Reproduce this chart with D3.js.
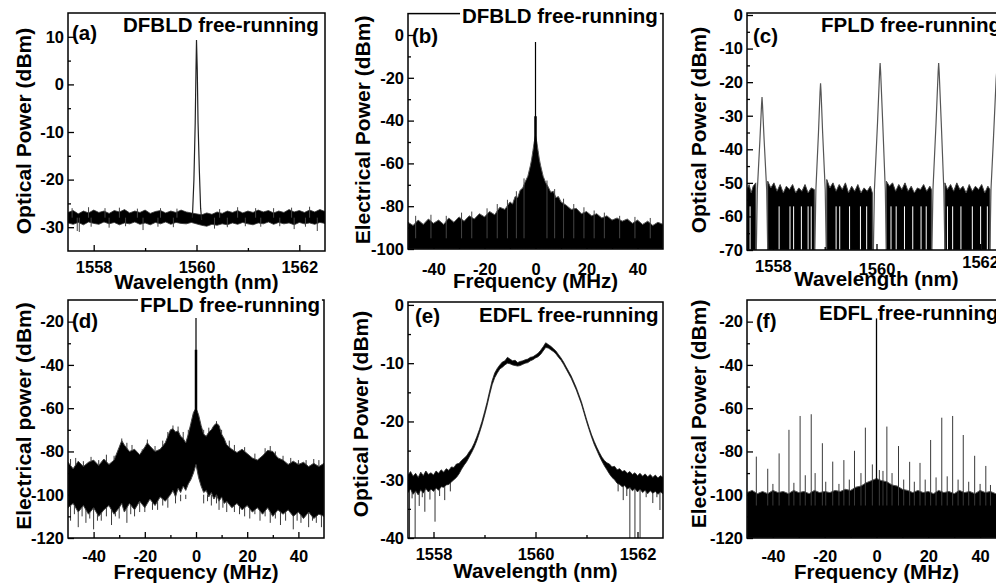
<!DOCTYPE html>
<html>
<head>
<meta charset="utf-8">
<script src="https://cdnjs.cloudflare.com/ajax/libs/d3/7.8.5/d3.min.js"></script>
<style>
  body { margin: 0; background: #fff; }
  svg { display: block; font-family: "Liberation Sans", Arial, sans-serif; font-weight: bold; }
</style>
</head>
<body>
<div id="chart"></div>
<script>
// ---- (a) DFBLD optical spectrum: [nm, upper, lower] noise band + lasing line
const aBand = [
  [1557.5,-26.9,-29.1],[1557.6,-26.5,-29.4],[1557.7,-27.2,-29.0],[1557.8,-26.6,-29.5],[1557.9,-27.0,-28.9],
  [1558.0,-26.4,-29.2],[1558.1,-26.9,-29.4],[1558.2,-26.6,-28.9],[1558.3,-27.1,-29.3],[1558.4,-26.5,-29.0],
  [1558.5,-26.8,-29.5],[1558.6,-26.3,-29.1],[1558.7,-27.0,-29.3],[1558.8,-26.6,-28.9],[1558.9,-26.9,-29.4],
  [1559.0,-26.4,-29.1],[1559.1,-27.1,-29.5],[1559.2,-26.7,-29.0],[1559.3,-26.5,-29.3],[1559.4,-27.0,-28.9],
  [1559.5,-26.6,-29.4],[1559.6,-26.9,-29.0],[1559.7,-26.4,-29.2],[1559.8,-26.8,-29.3],[1559.9,-27.0,-29.0],
  [1560.1,-27.4,-29.6],[1560.2,-27.0,-29.8],[1560.3,-27.3,-29.4],[1560.4,-26.8,-29.6],[1560.5,-27.1,-29.3],
  [1560.6,-26.6,-29.5],[1560.7,-26.9,-29.1],[1560.8,-26.5,-29.4],[1560.9,-27.0,-29.0],[1561.0,-26.6,-29.3],
  [1561.1,-26.9,-29.5],[1561.2,-26.4,-29.1],[1561.3,-26.8,-29.3],[1561.4,-26.5,-28.9],[1561.5,-27.0,-29.4],
  [1561.6,-26.6,-29.0],[1561.7,-26.9,-29.3],[1561.8,-26.3,-29.1],[1561.9,-26.8,-29.5],[1562.0,-26.5,-29.0],
  [1562.1,-26.9,-29.3],[1562.2,-26.4,-29.1],[1562.3,-26.8,-29.4],[1562.4,-26.3,-29.0],[1562.5,-26.7,-29.2]
];
const aSpikes = [
  [1557.68,-30.8],[1557.72,-31.0],[1557.95,-29.9],[1558.3,-30.1],[1558.62,-29.8],[1558.96,-30.6],
  [1559.25,-29.9],[1559.55,-30.0],[1560.35,-30.3],[1560.6,-30.0],[1560.95,-29.8],[1561.25,-29.9],
  [1561.62,-29.8],[1561.9,-30.4],[1562.12,-29.9],[1562.35,-30.8],
  [1557.58,-26.0],[1557.9,-25.8],[1558.22,-26.0],[1558.5,-25.9],[1558.85,-26.1],[1559.3,-26.0],
  [1559.62,-26.1],[1560.45,-26.2],[1560.8,-25.8],[1561.15,-26.0],[1561.5,-26.0],[1561.85,-25.9],[1562.2,-25.7]
];
const aPeak = [
  [1559.92,-28],[1559.95,-20],[1559.975,-8],[1559.99,3],[1560.0,9.3],[1560.015,3],
  [1560.03,-8],[1560.055,-18],[1560.08,-26],[1560.1,-28.5]
];

// ---- (b) DFBLD beat spectrum: [MHz, top of noise]
const bNoise = [
  [-50,-87.5],[-48,-89],[-46,-86.5],[-44,-88.5],[-42,-86],[-40,-88],[-38,-86.5],[-36,-88.5],[-34,-85.5],
  [-32,-87.5],[-30,-85],[-28,-87],[-26,-84.5],[-24,-86],[-22,-83.5],[-20,-85],[-18,-82.5],[-16,-84],
  [-14,-80.5],[-12,-81.5],[-10,-78],[-9,-79],[-8,-75.5],[-7,-76],[-6,-72.5],[-5,-71.5],[-4,-68.5],[-3,-66],
  [-2,-61],[-1.5,-58],[-1,-54],[-0.5,-50],[0,-47],[0.5,-50],[1,-54],[1.5,-58],[2,-61],[3,-66],[4,-69],
  [5,-71],[6,-73.5],[7,-73],[8,-76],[9,-75.5],[10,-78],[12,-79.5],[14,-81.5],[16,-81],[18,-83.5],[20,-82.5],
  [22,-84.5],[24,-83.5],[26,-85.5],[28,-84.5],[30,-86.5],[32,-85.5],[34,-87],[36,-86],[38,-88],[40,-86.5],
  [42,-88.5],[44,-87],[46,-89],[48,-87.5],[50,-88.5]
];
const bSpikes = [
  [-47,-84.5],[-41,-84],[-35,-84.5],[-29,-83],[-25,-82.5],[-19,-81],[-15,-79],[-11,-77],[-7.5,-73],
  [-4.5,-67],[4.5,-68],[7.5,-72],[11,-76.5],[15,-79],[19,-80.5],[23,-82],[27,-83],[33,-84.5],[39,-85],[45,-85.5]
];
const bCarrier = [0, -3.3];

// ---- (c) FPLD optical spectrum: noise floor segments (null = gap under a mode)
const cNoise = [
  [1557.50,-52],[1557.54,-50.5],[1557.58,-53],[1557.62,-51],[1557.67,-50], null,
  [1557.90,-49.5],[1557.96,-51.5],[1558.02,-50],[1558.08,-52.5],[1558.14,-50.5],[1558.20,-53],[1558.26,-51],
  [1558.32,-52],[1558.38,-50.5],[1558.44,-53],[1558.50,-51.5],[1558.56,-52.5],[1558.62,-50.5],[1558.68,-53],
  [1558.74,-51.5],[1558.80,-52], null,
  [1559.04,-49],[1559.10,-51.5],[1559.16,-50],[1559.22,-52.5],[1559.28,-50.5],[1559.34,-52],[1559.40,-50],
  [1559.46,-53],[1559.52,-51],[1559.58,-52.5],[1559.64,-50.5],[1559.70,-53],[1559.76,-51.5],[1559.82,-52.5],
  [1559.88,-51],[1559.92,-53], null,
  [1560.19,-49.5],[1560.25,-51],[1560.31,-50],[1560.37,-52.5],[1560.43,-50.5],[1560.49,-52],[1560.55,-50],
  [1560.61,-52.5],[1560.67,-51],[1560.73,-53],[1560.79,-51.5],[1560.85,-52],[1560.91,-50.5],[1560.97,-52.5],
  [1561.03,-51],[1561.06,-52], null,
  [1561.32,-50],[1561.37,-52],[1561.43,-50.5],[1561.49,-52.5],[1561.55,-50],[1561.61,-52],[1561.67,-51],
  [1561.73,-53],[1561.79,-50.5],[1561.85,-52.5],[1561.91,-51],[1561.97,-52],[1562.03,-50.5],[1562.09,-53],
  [1562.15,-51],[1562.19,-52]
];
const cDropouts = [
  1557.56,1558.12,1558.33,1558.40,1558.55,1558.68,1558.74,1559.22,1559.29,1559.48,1559.69,1559.81,
  1560.28,1560.38,1560.54,1560.70,1560.86,1560.96,1561.37,1561.47,1561.63,1561.85,1562.01,1562.14
];
const cModes = [
  [[1557.68,-70],[1557.70,-52],[1557.75,-37],[1557.78,-27],[1557.79,-24.4],[1557.80,-27],[1557.83,-37],[1557.88,-52],[1557.90,-70]],
  [[1558.81,-70],[1558.83,-52],[1558.88,-35],[1558.91,-23],[1558.92,-20.3],[1558.93,-23],[1558.96,-35],[1559.01,-52],[1559.03,-70]],
  [[1559.94,-70],[1559.96,-52],[1560.02,-32],[1560.06,-17],[1560.07,-14.3],[1560.08,-17],[1560.12,-32],[1560.17,-52],[1560.19,-70]],
  [[1561.07,-70],[1561.09,-52],[1561.15,-32],[1561.19,-17],[1561.20,-14.3],[1561.21,-17],[1561.25,-32],[1561.30,-52],[1561.32,-70]],
  [[1562.19,-70],[1562.21,-52],[1562.26,-36],[1562.31,-19],[1562.33,-15],[1562.35,-19],[1562.39,-36],[1562.44,-52],[1562.46,-70]]
];

// ---- (d) FPLD beat spectrum: [MHz, upper, lower]
const dBand = [
  [-50,-85,-106],[-48,-88,-104],[-46,-84.5,-108],[-44,-87,-105],[-42,-85,-109],[-40,-84,-106],[-38,-86.5,-110],
  [-36,-83.5,-107],[-34,-86,-105],[-32,-84,-109],[-30,-78,-106],[-29,-75,-104],[-28,-77,-108],[-26,-80,-104],
  [-24,-79,-107],[-22,-81.5,-103],[-20,-78,-106],[-19,-76,-104],[-18,-77.5,-102],[-16,-80,-105],[-14,-79,-101],
  [-12,-76,-103],[-10,-70,-100],[-9,-69.5,-98],[-8,-71,-101],[-7,-70.5,-97],[-6,-73,-99],[-5,-74,-96],
  [-4,-76,-98],[-3,-72,-95],[-2,-67,-93],[-1,-62,-90],[0,-60,-86],[1,-63,-92],[2,-68,-96],[3,-72,-99],
  [4,-73,-98],[5,-71,-101],[6,-70,-99],[7,-68,-102],[8,-67,-100],[9,-68,-103],[10,-72,-101],[11,-74,-104],
  [12,-77,-103],[14,-79,-106],[16,-80.5,-104],[18,-79,-107],[20,-81,-105],[22,-83,-108],[24,-84,-106],
  [26,-82,-109],[28,-79.5,-106],[30,-80,-110],[32,-83,-107],[34,-84,-109],[36,-86,-107],[38,-84.5,-110],
  [40,-86,-108],[42,-85,-111],[44,-87,-108],[46,-85.5,-111],[48,-87,-109],[50,-85.5,-110]
];
const dDips = [
  [-49,-112],[-47.5,-109],[-46,-115],[-44.5,-110],[-43,-113],[-41.5,-111],[-40,-116],[-38.5,-112],[-37,-112],
  [-35,-110],[-33,-114],[-31.5,-110],[-30,-111],[-27,-113],[-25.5,-109],[-24,-110],[-22,-108],[-20,-108],
  [-17,-107],[-15,-107],[-13,-105],[-11,-106],[-8,-104],[-6,-103],[-4,-102],[3,-104],[4.5,-103],[6,-105],
  [8,-104],[9,-107],[10.5,-106],[12,-108],[15,-108],[17,-109],[19,-110],[21,-111],[23,-109],[25,-112],
  [27,-110],[29,-113],[31,-111],[33,-114],[35,-112],[38,-116],[39.5,-112],[41,-113],[44,-115],[45.5,-112],
  [47,-113],[49,-115]
];
const dUps = [
  [-49,-83.5],[-47,-83],[-44,-84.5],[-41,-82.5],[-38,-84],[-35,-81.5],[-32,-82],[-29,-74],[-27,-76],
  [-25,-77],[-21,-79],[-19,-74.5],[-16,-77.5],[-13,-75],[-11,-71],[-9,-68],[-7,-68.5],[-5,-71],[-3,-70],
  [3,-70],[5,-69],[8,-66],[10,-70],[13,-75],[15,-77],[19,-78],[23,-81],[27,-78.5],[29,-77.5],[31,-80],
  [34,-82],[37,-83],[40,-84],[43,-84],[46,-83.5],[48,-84]
];
const dCarrier = [0, -18.3];

// ---- (e) EDFL optical spectrum: [nm, upper, lower]
const eBand = [
  [1557.50,-29.2,-32.2],[1557.55,-28.6,-31.6],[1557.60,-29.4,-32.5],[1557.65,-28.9,-31.9],[1557.70,-29.6,-32.6],
  [1557.75,-28.7,-31.7],[1557.80,-29.3,-32.3],[1557.85,-28.5,-31.5],[1557.90,-29.1,-32.1],[1557.95,-28.8,-31.6],
  [1558.00,-29.2,-32.0],[1558.05,-28.5,-31.4],[1558.10,-28.9,-31.8],[1558.15,-28.3,-31.2],[1558.20,-28.7,-31.3],
  [1558.25,-28.1,-30.9],[1558.30,-28.4,-30.8],[1558.35,-27.8,-30.4],[1558.40,-27.9,-30.0],[1558.45,-27.3,-29.6],
  [1558.50,-27.2,-29.0],[1558.55,-26.7,-28.2],[1558.60,-26.3,-27.5],[1558.65,-25.9,-26.9],[1558.70,-25.2,-26.1],
  [1558.75,-24.6,-25.3],[1558.80,-23.7,-24.4],[1558.85,-22.6,-23.3],[1558.90,-21.4,-22.0],[1558.95,-20.0,-20.6],
  [1559.00,-18.4,-19.0],[1559.05,-16.7,-17.3],[1559.10,-14.8,-15.4],[1559.15,-13.0,-13.7],[1559.20,-11.7,-12.5],
  [1559.25,-10.9,-11.7],[1559.30,-10.3,-11.0],[1559.35,-9.8,-10.7],[1559.40,-9.6,-10.3],[1559.45,-9.0,-10.0],
  [1559.50,-9.3,-10.1],[1559.55,-9.6,-10.3],[1559.60,-9.5,-10.4],[1559.65,-9.9,-10.5],[1559.70,-9.7,-10.4],
  [1559.75,-9.6,-10.2],[1559.80,-9.4,-10.0],[1559.85,-9.3,-9.9],[1559.90,-9.0,-9.6],[1559.95,-8.9,-9.4],
  [1560.00,-8.6,-9.1],[1560.05,-8.3,-8.9],[1560.10,-7.8,-8.5],[1560.15,-7.2,-7.9],[1560.20,-6.5,-7.3],
  [1560.25,-6.8,-7.4],[1560.30,-7.1,-7.7],[1560.35,-7.5,-8.0],[1560.40,-7.9,-8.4],[1560.45,-8.5,-9.0],
  [1560.50,-9.1,-9.5],[1560.55,-9.8,-10.2],[1560.60,-10.6,-11.0],[1560.65,-11.4,-11.8],[1560.70,-12.2,-12.6],
  [1560.75,-13.2,-13.6],[1560.80,-14.2,-14.6],[1560.85,-15.4,-15.8],[1560.90,-16.6,-17.0],[1560.95,-18.1,-18.5],
  [1561.00,-19.6,-20.0],[1561.05,-21.0,-21.4],[1561.10,-22.3,-22.7],[1561.15,-23.4,-23.9],[1561.20,-24.4,-24.9],
  [1561.25,-25.3,-25.9],[1561.30,-26.1,-26.8],[1561.35,-26.7,-27.6],[1561.40,-27.1,-28.3],[1561.45,-27.3,-29.0],
  [1561.50,-27.8,-29.6],[1561.55,-27.7,-30.0],[1561.60,-28.3,-30.6],[1561.65,-28.1,-30.8],[1561.70,-28.6,-31.2],
  [1561.75,-28.4,-31.0],[1561.80,-28.9,-31.6],[1561.85,-28.6,-31.3],[1561.90,-29.1,-31.9],[1561.95,-28.8,-31.5],
  [1562.00,-29.3,-32.1],[1562.05,-28.9,-31.6],[1562.10,-29.4,-32.2],[1562.15,-29.0,-31.8],[1562.20,-29.5,-32.4],
  [1562.25,-29.1,-31.9],[1562.30,-29.6,-32.3],[1562.35,-29.2,-32.0],[1562.40,-29.7,-32.5],[1562.45,-29.3,-32.1],
  [1562.50,-29.6,-32.4]
];
const eDips = [
  [1557.53,-40],[1557.58,-33.2],[1557.64,-40],[1557.72,-34.5],[1557.78,-33],[1557.83,-35.5],[1557.93,-33.4],
  [1558.03,-37.2],[1558.12,-32.8],[1558.22,-33.5],[1558.33,-32],
  [1561.62,-32],[1561.72,-33.5],[1561.79,-32.8],[1561.85,-40],[1561.95,-40],[1562.05,-40],[1562.17,-33],
  [1562.3,-34],[1562.38,-33],[1562.44,-35.2]
];

// ---- (f) EDFL beat spectrum: noise top + beat lines
const fNoise = [
  [-50,-99],[-48,-98],[-46,-99.5],[-44,-98.5],[-42,-99.5],[-40,-98],[-38,-99],[-36,-98.5],[-34,-99.5],
  [-32,-98],[-30,-99],[-28,-98.5],[-26,-99.5],[-24,-98],[-22,-99],[-20,-98.5],[-18,-99],[-16,-98],
  [-14,-98.5],[-12,-97.5],[-10,-98],[-8,-96.5],[-6,-96],[-4,-94.5],[-2,-93.5],[0,-92.5],[2,-93.5],
  [4,-94],[6,-95.5],[8,-96],[10,-97.5],[12,-98],[14,-99],[16,-98],[18,-99],[20,-98.5],[22,-99.5],
  [24,-98],[26,-99],[28,-98.5],[30,-99.5],[32,-98],[34,-99],[36,-98.5],[38,-99.5],[40,-98],[42,-99],
  [44,-98.5],[46,-99.5],[48,-98.5],[50,-99]
];
const fLines = [
  [-46.4,-82.4],[-42,-88],[-37.6,-80.9],[-33.8,-70],[-29.5,-63.6],[-25.2,-62.8],[-20.9,-76.2],[-16.9,-84.7],
  [-12.6,-84],[-8.5,-79.7],[-4.3,-69],[-1.6,-86],[1.1,-88.6],[4,-68.5],[8.5,-77.5],[12.8,-84.8],[16.8,-85.3],
  [20.9,-74.7],[25.2,-64.4],[29.4,-63.6],[33.5,-72.4],[37.9,-82],[42.2,-86.7],
  [-40,-95],[-31.9,-94.5],[-27.5,-91],[-23.7,-90],[-19.6,-94],[-14.5,-95],[-10.5,-93],[-6,-90],[2.5,-89],
  [6,-90],[10.5,-93],[14.6,-94],[18.8,-93],[23,-92],[27.3,-91.5],[31.5,-93],[35.6,-94],[40,-95],[44,-95.5]
];
const fCarrier = [0, -18.5];

// ---- axis ticks
const wlMajor = [1558, 1560, 1562];
const wlMinor = [1559, 1561];
const mhzMajor = [-40, -20, 0, 20, 40];
const mhzMinor = [-30, -10, 10, 30];

const svg = d3.select('#chart').append('svg').attr('width', 996).attr('height', 585);

const panel = (id, box, xDom, yDom) => {
  const x = d3.scaleLinear().domain(xDom).range([box.left, box.right]);
  const y = d3.scaleLinear().domain(yDom).range([box.bottom, box.top]);
  svg.append('clipPath').attr('id', 'clip-' + id)
    .append('rect')
    .attr('x', box.left).attr('y', box.top)
    .attr('width', box.right - box.left).attr('height', box.bottom - box.top);
  const plot = svg.append('g').attr('clip-path', `url(#clip-${id})`);
  return { id, box, x, y, plot };
};

const fmt = (d) => String(d);

const finish = (p, o) => {
  const { box, x, y } = p;
  const g = svg.append('g');

  // frame
  g.append('rect')
    .attr('x', box.left).attr('y', box.top)
    .attr('width', box.right - box.left).attr('height', box.bottom - box.top)
    .attr('fill', 'none').attr('stroke', '#000').attr('stroke-width', 1.5);

  // inward ticks
  g.append('g').attr('transform', `translate(${box.left},0)`)
    .call(d3.axisLeft(y).tickValues(o.yMajor).tickSize(-6).tickPadding(4).tickFormat(fmt));
  g.append('g').attr('transform', `translate(${box.left},0)`)
    .call(d3.axisLeft(y).tickValues(o.yMinor).tickSize(-3).tickFormat(''));
  const xMaj = g.append('g').attr('transform', `translate(0,${box.bottom})`)
    .call(d3.axisBottom(x).tickValues(o.xMajor).tickSize(-6).tickFormat(fmt));
  g.append('g').attr('transform', `translate(0,${box.bottom})`)
    .call(d3.axisBottom(x).tickValues(o.xMinor).tickSize(-3).tickFormat(''));

  g.selectAll('.domain').remove();
  g.selectAll('.tick line').attr('stroke', '#000').attr('stroke-width', 1.3);
  g.selectAll('.tick text')
    .attr('fill', '#000')
    .attr('font-family', '"Liberation Sans", Arial, sans-serif')
    .attr('font-weight', 'bold')
    .attr('font-size', 16.5);
  xMaj.selectAll('.tick text')
    .attr('dy', null)
    .attr('y', (d, i) => o.xLabelY + (o.xShift ? o.xShift[i] : 0));

  // axis titles
  g.append('text')
    .attr('x', (box.left + box.right) / 2).attr('y', o.xTitleY)
    .attr('text-anchor', 'middle').attr('font-size', 20.5)
    .text(o.xTitle);
  g.append('text')
    .attr('transform', `translate(${o.yTitleX},${o.yTitleCY}) rotate(-90)`)
    .attr('text-anchor', 'middle').attr('font-size', 21)
    .text(o.yTitle);

  // panel label and condition
  g.append('text')
    .attr('x', o.tagX).attr('y', o.tagY).attr('font-size', 20.5).text(o.tag);
  const t = g.append('text')
    .attr('x', o.titleX).attr('y', o.titleY).attr('font-size', 20.5).text(o.title);
  if (o.titleBg) {
    const bb = t.node().getBBox();
    g.insert('rect', () => t.node())
      .attr('x', bb.x - 2).attr('y', bb.y + 3)
      .attr('width', bb.width + 4).attr('height', bb.height - 6)
      .attr('fill', '#fff');
  }
};

const vlines = (p, data, base, color, width) => {
  p.plot.selectAll(null)
    .data(data)
    .enter()
    .append('line')
    .attr('x1', (d) => p.x(d[0])).attr('x2', (d) => p.x(d[0]))
    .attr('y1', p.y(base)).attr('y2', (d) => p.y(d[1]))
    .attr('stroke', color).attr('stroke-width', width);
};

// ================= (a)
const pa = panel('a', { left: 68, top: 13, right: 325, bottom: 251 }, [1557.5, 1562.5], [-35, 15]);
pa.plot.append('path').datum(aBand)
  .attr('d', d3.area().x((d) => pa.x(d[0])).y0((d) => pa.y(d[2])).y1((d) => pa.y(d[1])))
  .attr('fill', '#000').attr('stroke', '#333').attr('stroke-width', 0.8);
vlines(pa, aSpikes, -28, '#444', 1);
pa.plot.append('path').datum(aPeak)
  .attr('d', d3.line().x((d) => pa.x(d[0])).y((d) => pa.y(d[1])))
  .attr('fill', 'none').attr('stroke', '#222').attr('stroke-width', 1.2);
finish(pa, {
  xMajor: wlMajor, xMinor: wlMinor, yMajor: [-30, -20, -10, 0, 10], yMinor: [-25, -15, -5, 5],
  xLabelY: 22, xTitle: 'Wavelength (nm)', xTitleY: 289,
  yTitle: 'Optical Power (dBm)', yTitleX: 31, yTitleCY: 131,
  tag: '(a)', tagX: 72, tagY: 40, title: 'DFBLD free-running', titleX: 123, titleY: 32
});

// ================= (b)
const pb = panel('b', { left: 408, top: 13.6, right: 663, bottom: 249 }, [-50, 50], [-100, 10]);
pb.plot.append('path').datum(bNoise)
  .attr('d', d3.area().x((d) => pb.x(d[0])).y0(pb.y(-100)).y1((d) => pb.y(d[1])))
  .attr('fill', '#000').attr('stroke', '#555').attr('stroke-width', 1);
vlines(pb, bSpikes, -95, '#444', 1);
vlines(pb, [bCarrier], -60, '#000', 1.2);
vlines(pb, [[0, -38]], -60, '#000', 2.5);
finish(pb, {
  xMajor: mhzMajor, xMinor: mhzMinor, yMajor: [-100, -80, -60, -40, -20, 0], yMinor: [-90, -70, -50, -30, -10],
  xLabelY: 26, xTitle: 'Frequency (MHz)', xTitleY: 288,
  yTitle: 'Electrical Power (dBm)', yTitleX: 370, yTitleCY: 130,
  tag: '(b)', tagX: 412, tagY: 43, title: 'DFBLD free-running', titleX: 462, titleY: 23, titleBg: true
});

// ================= (c)
const pc = panel('c', { left: 747, top: 13, right: 1006, bottom: 250 }, [1557.5, 1562.5], [-70, 0.6]);
pc.plot.append('path').datum(cNoise)
  .attr('d', d3.area().defined((d) => d !== null)
    .x((d) => pc.x(d[0])).y0(pc.y(-70)).y1((d) => pc.y(d[1])))
  .attr('fill', '#000').attr('stroke', '#444').attr('stroke-width', 1);
vlines(pc, cDropouts.map((w) => [w, -57]), -70, '#fff', 1);
cModes.forEach((m) => {
  pc.plot.append('path').datum(m)
    .attr('d', d3.line().x((d) => pc.x(d[0])).y((d) => pc.y(d[1])))
    .attr('fill', 'none').attr('stroke', '#555').attr('stroke-width', 1.2);
});
finish(pc, {
  xMajor: wlMajor, xMinor: wlMinor, xShift: [0, 3, -4],
  yMajor: [-70, -60, -50, -40, -30, -20, -10, 0], yMinor: [-65, -55, -45, -35, -25, -15, -5],
  xLabelY: 22, xTitle: 'Wavelength (nm)', xTitleY: 286,
  yTitle: 'Optical Power (dBm)', yTitleX: 706, yTitleCY: 130,
  tag: '(c)', tagX: 753, tagY: 43, title: 'FPLD free-running', titleX: 821, titleY: 32
});

// ================= (d)
const pd = panel('d', { left: 68, top: 300, right: 324, bottom: 538 }, [-50, 50], [-120, -10]);
vlines(pd, dDips, -100, '#3a3a3a', 1);
vlines(pd, dUps, -90, '#3a3a3a', 1);
pd.plot.append('path').datum(dBand)
  .attr('d', d3.area().x((d) => pd.x(d[0])).y0((d) => pd.y(d[2])).y1((d) => pd.y(d[1])))
  .attr('fill', '#000').attr('stroke', '#444').attr('stroke-width', 1);
vlines(pd, [dCarrier], -80, '#000', 1.2);
vlines(pd, [[0, -33]], -80, '#000', 2.5);
finish(pd, {
  xMajor: mhzMajor, xMinor: mhzMinor, yMajor: [-120, -100, -80, -60, -40, -20], yMinor: [-110, -90, -70, -50, -30],
  xLabelY: 24, xTitle: 'Frequency (MHz)', xTitleY: 579,
  yTitle: 'Electrical power (dBm)', yTitleX: 31, yTitleCY: 416,
  tag: '(d)', tagX: 72, tagY: 328, title: 'FPLD free-running', titleX: 140, titleY: 312, titleBg: true
});

// ================= (e)
const pe = panel('e', { left: 408, top: 302, right: 663, bottom: 538 }, [1557.5, 1562.5], [-40, 0.5]);
vlines(pe, eDips, -30, '#333', 1);
pe.plot.append('path').datum(eBand)
  .attr('d', d3.area().x((d) => pe.x(d[0])).y0((d) => pe.y(d[2])).y1((d) => pe.y(d[1])))
  .attr('fill', '#000').attr('stroke', '#222').attr('stroke-width', 0.8);
finish(pe, {
  xMajor: wlMajor, xMinor: wlMinor, yMajor: [-40, -30, -20, -10, 0], yMinor: [-35, -25, -15, -5],
  xLabelY: 22, xTitle: 'Wavelength (nm)', xTitleY: 578,
  yTitle: 'Optical Power (dBm)', yTitleX: 368, yTitleCY: 414,
  tag: '(e)', tagX: 415, tagY: 323, title: 'EDFL free-running', titleX: 479, titleY: 322
});

// ================= (f)
const pf = panel('f', { left: 747, top: 300, right: 1006, bottom: 538 }, [-50, 50], [-120, -10]);
pf.plot.append('path').datum(fNoise)
  .attr('d', d3.area().x((d) => pf.x(d[0])).y0(pf.y(-120)).y1((d) => pf.y(d[1])))
  .attr('fill', '#000').attr('stroke', '#555').attr('stroke-width', 1);
vlines(pf, fLines, -105, '#3a3a3a', 1);
vlines(pf, [fCarrier], -105, '#000', 1.3);
finish(pf, {
  xMajor: mhzMajor, xMinor: mhzMinor, yMajor: [-120, -100, -80, -60, -40, -20], yMinor: [-110, -90, -70, -50, -30],
  xLabelY: 24, xTitle: 'Frequency (MHz)', xTitleY: 579,
  yTitle: 'Electrical Power (dBm)', yTitleX: 706, yTitleCY: 414,
  tag: '(f)', tagX: 756, tagY: 328, title: 'EDFL free-running', titleX: 819, titleY: 320
});
</script>
</body>
</html>
